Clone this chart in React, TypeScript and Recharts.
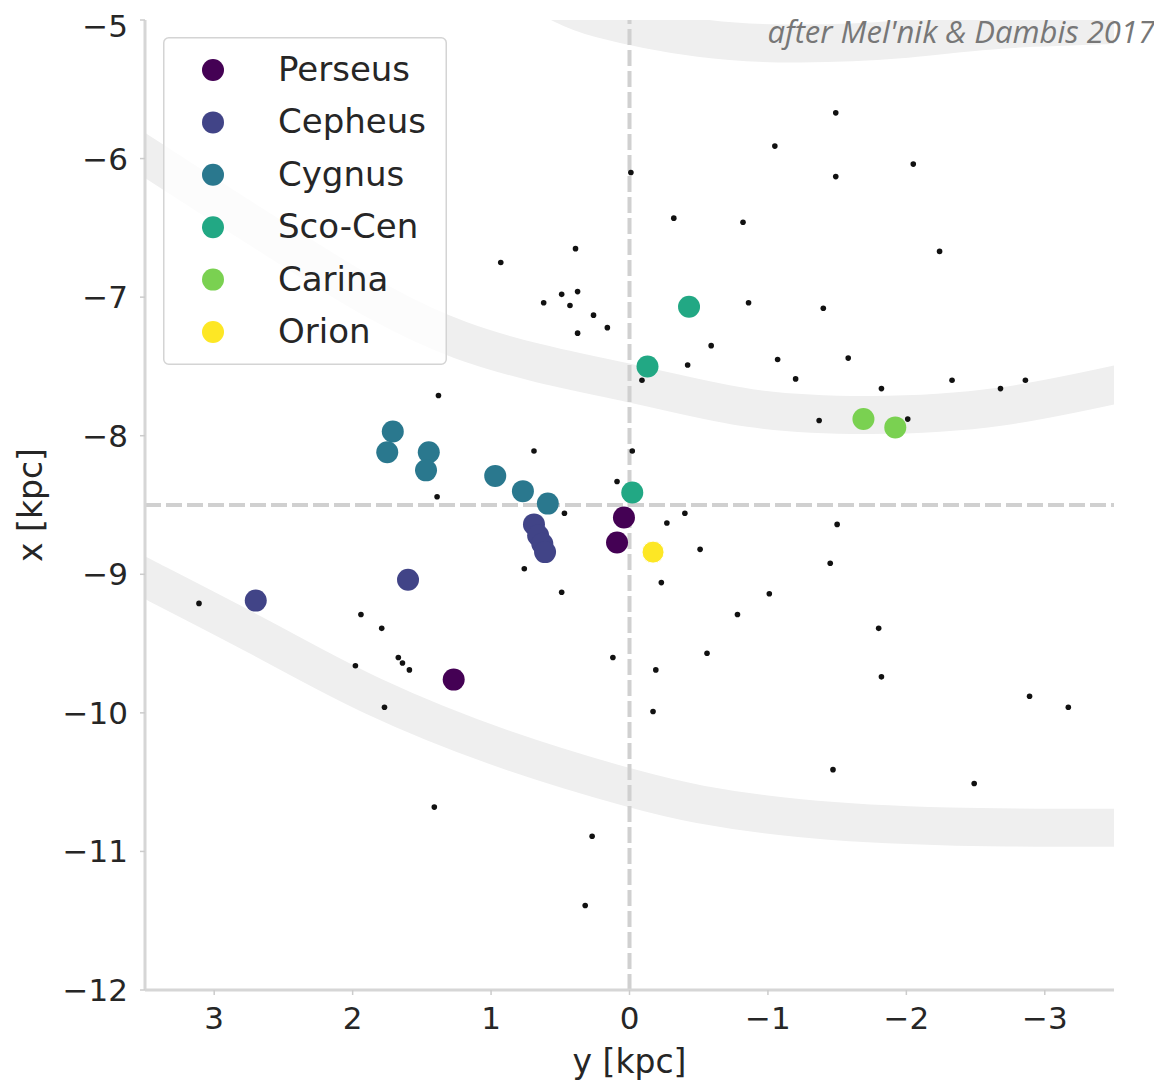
import React from 'react';
import { ComposedChart, Scatter, Line, XAxis, YAxis, Legend, Label } from 'recharts';

const CHART_W = 1154;
const CHART_H = 1076;

// axis ticks
const yTicks = [3, 2, 1, 0, -1, -2, -3];
const xTicks = [-12, -11, -10, -9, -8, -7, -6, -5];

// groups (legend order)
const groupNames = ['Perseus', 'Cepheus', 'Cygnus', 'Sco-Cen', 'Carina', 'Orion'];
const groupColors = ['#440154', '#414487', '#2a788e', '#22a884', '#7ad151', '#fde725'];

// gy = y [kpc] (horizontal), gx = x [kpc] (vertical)
const perseus = [
  { gy: 0.04, gx: -8.59 },
  { gy: 0.09, gx: -8.77 },
  { gy: 1.27, gx: -9.76 },
];
const cepheus = [
  { gy: 2.7, gx: -9.19 },
  { gy: 1.6, gx: -9.04 },
  { gy: 0.69, gx: -8.64 },
  { gy: 0.66, gx: -8.72 },
  { gy: 0.63, gx: -8.78 },
  { gy: 0.61, gx: -8.84 },
];
const cygnus = [
  { gy: 1.71, gx: -7.97 },
  { gy: 1.75, gx: -8.12 },
  { gy: 1.45, gx: -8.12 },
  { gy: 1.47, gx: -8.25 },
  { gy: 0.97, gx: -8.29 },
  { gy: 0.77, gx: -8.4 },
  { gy: 0.59, gx: -8.49 },
];
const scoCen = [
  { gy: -0.43, gx: -7.07 },
  { gy: -0.13, gx: -7.5 },
  { gy: -0.02, gx: -8.41 },
];
const carina = [
  { gy: -1.69, gx: -7.88 },
  { gy: -1.92, gx: -7.94 },
];
const orion = [{ gy: -0.17, gx: -8.84 }];

const groupData = [perseus, cepheus, cygnus, scoCen, carina, orion];

// small black points
const field = [
  { gy: -1.05, gx: -5.91 }, { gy: -0.01, gx: -6.1 }, { gy: -0.32, gx: -6.43 }, { gy: -0.82, gx: -6.46 },
  { gy: 0.39, gx: -6.65 }, { gy: 0.93, gx: -6.75 }, { gy: 0.375, gx: -6.96 }, { gy: 0.49, gx: -6.98 },
  { gy: 0.62, gx: -7.04 }, { gy: 0.43, gx: -7.06 }, { gy: 0.26, gx: -7.13 }, { gy: 0.16, gx: -7.22 },
  { gy: 0.375, gx: -7.26 }, { gy: -0.86, gx: -7.04 }, { gy: -0.59, gx: -7.35 }, { gy: -0.42, gx: -7.49 },
  { gy: -1.07, gx: -7.45 }, { gy: -1.2, gx: -7.59 }, { gy: -0.09, gx: -7.6 }, { gy: 1.38, gx: -7.71 },
  { gy: -1.49, gx: -5.67 }, { gy: -1.49, gx: -6.13 }, { gy: -2.05, gx: -6.04 }, { gy: -2.24, gx: -6.67 },
  { gy: -1.4, gx: -7.08 }, { gy: -1.58, gx: -7.44 }, { gy: -1.82, gx: -7.66 }, { gy: -2.33, gx: -7.6 },
  { gy: -2.68, gx: -7.66 }, { gy: -2.86, gx: -7.6 }, { gy: -1.37, gx: -7.89 }, { gy: -2.01, gx: -7.88 },
  { gy: -1.5, gx: -8.64 }, { gy: -1.45, gx: -8.92 }, { gy: -1.8, gx: -9.39 }, { gy: -1.82, gx: -9.74 },
  { gy: -2.89, gx: -9.88 }, { gy: -3.17, gx: -9.96 }, { gy: -1.47, gx: -10.41 }, { gy: -2.49, gx: -10.51 },
  { gy: 0.69, gx: -8.11 }, { gy: -0.02, gx: -8.11 }, { gy: 1.39, gx: -8.44 }, { gy: 0.09, gx: -8.33 },
  { gy: 0.47, gx: -8.56 }, { gy: -0.4, gx: -8.56 }, { gy: -0.27, gx: -8.63 }, { gy: -0.51, gx: -8.82 },
  { gy: 0.76, gx: -8.96 }, { gy: -0.23, gx: -9.06 }, { gy: 0.49, gx: -9.13 }, { gy: -1.01, gx: -9.14 },
  { gy: -0.78, gx: -9.29 }, { gy: -0.56, gx: -9.57 }, { gy: 0.12, gx: -9.6 }, { gy: -0.19, gx: -9.69 },
  { gy: -0.17, gx: -9.99 }, { gy: 1.67, gx: -9.6 }, { gy: 1.64, gx: -9.64 }, { gy: 1.59, gx: -9.69 },
  { gy: 3.11, gx: -9.21 }, { gy: 1.94, gx: -9.29 }, { gy: 1.79, gx: -9.39 }, { gy: 1.98, gx: -9.66 },
  { gy: 1.77, gx: -9.96 }, { gy: 1.41, gx: -10.68 }, { gy: 0.27, gx: -10.89 }, { gy: 0.32, gx: -11.39 },
];

// spiral-arm bands (centre lines)
const upperBand = [
  { gy: 0.79, gx: -4.75 }, { gy: 0.5, gx: -4.88 }, { gy: 0.21, gx: -4.99 }, { gy: -0.51, gx: -5.13 },
  { gy: -1.23, gx: -5.17 }, { gy: -1.95, gx: -5.14 }, { gy: -2.68, gx: -5.07 }, { gy: -3.7, gx: -5.03 },
];
const middleBand = [
  { gy: 3.7, gx: -5.84 }, { gy: 3.48, gx: -5.99 }, { gy: 2.37, gx: -6.7 }, { gy: 1.22, gx: -7.31 },
  { gy: 0, gx: -7.62 }, { gy: -0.87, gx: -7.8 }, { gy: -1.74, gx: -7.85 }, { gy: -2.68, gx: -7.79 },
  { gy: -3.7, gx: -7.59 },
];
const lowerBand = [
  { gy: 3.7, gx: -8.92 }, { gy: 3.49, gx: -9.03 }, { gy: 2.66, gx: -9.46 }, { gy: 1.85, gx: -9.88 },
  { gy: 0.88, gx: -10.27 }, { gy: 0, gx: -10.54 }, { gy: -0.51, gx: -10.66 }, { gy: -1.23, gx: -10.76 },
  { gy: -2.31, gx: -10.82 }, { gy: -3.7, gx: -10.83 },
];

// sun position guide lines
const sunVertical = [{ gy: 0, gx: -12 }, { gy: 0, gx: -5 }];
const sunHorizontal = [{ gy: 3.5, gx: -8.5 }, { gy: -3.5, gx: -8.5 }];

const annotation = "after Mel'nik & Dambis 2017";
const xLabel = 'y [kpc]';
const yLabel = 'x [kpc]';

const FONT = '"DejaVu Sans", sans-serif';
const TEXT_COLOR = '#262626';

const fmt = (v: number) => (v < 0 ? '\u2212' + Math.abs(v) : String(v));

const renderLegend = () => (
  <svg width={284} height={328} style={{ display: 'block' }}>
    <rect x={0.75} y={0.75} width={282.5} height={326.5} rx={5} fill="#ffffff" fillOpacity={0.8} stroke="#d4d4d4" strokeWidth={1.5} />
    {groupNames.map((n, i) => {
      const cy = 33 + i * 52.4;
      return (
        <g key={n}>
          <circle cx={50} cy={cy} r={11} fill={groupColors[i]} />
          <text x={115} y={cy + 11} fontFamily={FONT} fontSize={34} fill={TEXT_COLOR}>
            {n}
          </text>
        </g>
      );
    })}
  </svg>
);

const dot = (r: number, fill: string, stroke?: string) => (p: any) => (
  <circle cx={p.cx} cy={p.cy} r={r} fill={fill} stroke={stroke || 'none'} strokeWidth={stroke ? 1 : 0} />
);

export default function App() {
  return (
    <div style={{ position: 'relative', width: CHART_W, height: CHART_H }}>
      <ComposedChart width={CHART_W} height={CHART_H} margin={{ top: 12, right: 48, bottom: 0, left: 0 }}>
        <XAxis
          type="number"
          dataKey="gy"
          domain={[-3.5, 3.5]}
          reversed
          allowDataOverflow
          ticks={yTicks}
          tickFormatter={fmt}
          height={94}
          tickSize={5}
          tickMargin={12}
          axisLine={{ stroke: '#d6d6d6', strokeWidth: 3 }}
          tickLine={{ stroke: '#cccccc', strokeWidth: 1.5 }}
          tick={{ fill: TEXT_COLOR, fontSize: 31, fontFamily: FONT }}
        >
          <Label
            content={(props: any) => {
              const vb = props.viewBox || { x: 137, y: 982, width: 969 };
              return (
                <text x={vb.x + vb.width / 2} y={vb.y + 83} textAnchor="middle" fontFamily={FONT} fontSize={33} fill={TEXT_COLOR}>
                  {xLabel}
                </text>
              );
            }}
          />
        </XAxis>
        <YAxis
          type="number"
          dataKey="gx"
          domain={[-12, -5]}
          allowDataOverflow
          ticks={xTicks}
          tickFormatter={fmt}
          width={137}
          tickSize={5}
          tickMargin={12}
          axisLine={{ stroke: '#d6d6d6', strokeWidth: 3 }}
          tickLine={{ stroke: '#cccccc', strokeWidth: 1.5 }}
          tick={{ fill: TEXT_COLOR, fontSize: 31, fontFamily: FONT }}
        >
          <Label
            content={(props: any) => {
              const vb = props.viewBox || { x: 0, y: 12, height: 970 };
              const cx = vb.x + 34;
              const cy = vb.y + vb.height / 2;
              return (
                <text x={cx} y={cy} transform={`rotate(-90 ${cx} ${cy})`} textAnchor="middle" fontFamily={FONT} fontSize={33} fill={TEXT_COLOR}>
                  {yLabel}
                </text>
              );
            }}
          />
        </YAxis>

        <Line data={upperBand} dataKey="gx" type="natural" stroke="#efefef" strokeWidth={38} dot={false} activeDot={false} isAnimationActive={false} legendType="none" />
        <Line data={middleBand} dataKey="gx" type="natural" stroke="#efefef" strokeWidth={38} dot={false} activeDot={false} isAnimationActive={false} legendType="none" />
        <Line data={lowerBand} dataKey="gx" type="natural" stroke="#efefef" strokeWidth={38} dot={false} activeDot={false} isAnimationActive={false} legendType="none" />

        <Line data={sunVertical} dataKey="gx" type="linear" stroke="#d0d0d0" strokeWidth={4} strokeDasharray="16 5" dot={false} activeDot={false} isAnimationActive={false} legendType="none" />
        <Line data={sunHorizontal} dataKey="gx" type="linear" stroke="#d0d0d0" strokeWidth={4} strokeDasharray="16 5" dot={false} activeDot={false} isAnimationActive={false} legendType="none" />

        <Scatter data={field} fill="#111111" shape={dot(2.8, '#111111')} isAnimationActive={false} legendType="none" />

        {groupData.map((d, i) => (
          <Scatter
            key={groupNames[i]}
            name={groupNames[i]}
            data={d}
            fill={groupColors[i]}
            shape={dot(11, groupColors[i], i === 5 ? '#ffffff' : undefined)}
            isAnimationActive={false}
          />
        ))}

        <Legend
          layout="vertical"
          align="center"
          verticalAlign="middle"
          content={renderLegend}
          wrapperStyle={{ left: 155, top: 29, width: 284, height: 328 }}
        />
      </ComposedChart>
      <svg width={CHART_W} height={60} style={{ position: 'absolute', left: 0, top: 0, pointerEvents: 'none' }}>
        <text x={1147} y={35} textAnchor="end" fontFamily='"Open Sans", sans-serif' fontStyle="italic" fontSize={31} fill="#777777">
          {annotation}
        </text>
      </svg>
    </div>
  );
}
